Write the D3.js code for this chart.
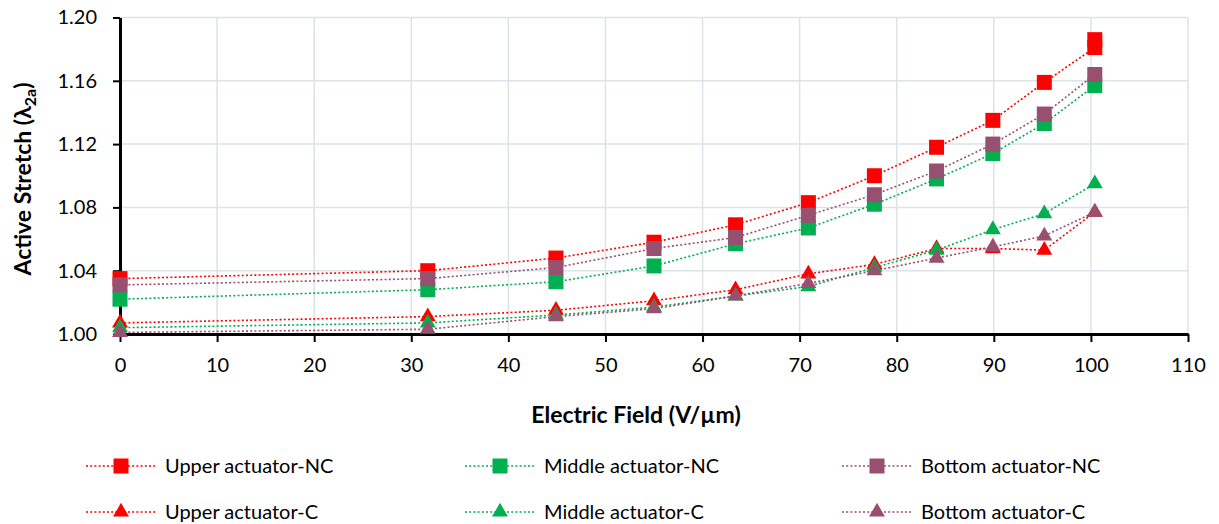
<!DOCTYPE html>
<html>
<head>
<meta charset="utf-8">
<script src="https://cdn.jsdelivr.net/npm/d3@7"></script>
<style>
  body { margin: 0; background: #fff; }
  text { font-family: Lato, "Open Sans", sans-serif; fill: #000; }
</style>
</head>
<body>
<div id="chart"></div>
<script>
// electric field values (V/um), shared by every series
let field = [0, 31.7, 44.9, 55.0, 63.4, 70.9, 77.7, 84.1, 89.9, 95.2, 100.4];
// upper NC has a second reading at the last field value
let upperNCField = [0, 31.7, 44.9, 55.0, 63.4, 70.9, 77.7, 84.1, 89.9, 95.2, 100.4, 100.4];

let upperNC  = [1.035, 1.040, 1.048, 1.058, 1.069, 1.083, 1.100, 1.118, 1.135, 1.159, 1.181, 1.186];
let middleNC = [1.022, 1.028, 1.033, 1.043, 1.057, 1.067, 1.082, 1.098, 1.114, 1.133, 1.157];
let bottomNC = [1.031, 1.035, 1.042, 1.054, 1.061, 1.075, 1.088, 1.103, 1.120, 1.139, 1.164];
let upperC   = [1.007, 1.011, 1.015, 1.021, 1.028, 1.038, 1.044, 1.054, 1.054, 1.053, 1.077];
let middleC  = [1.004, 1.007, 1.012, 1.017, 1.024, 1.030, 1.042, 1.053, 1.066, 1.076, 1.095];
let bottomC  = [1.001, 1.003, 1.011, 1.016, 1.024, 1.032, 1.040, 1.048, 1.055, 1.062, 1.077];

let seriesNames = ["Upper actuator-NC", "Middle actuator-NC", "Bottom actuator-NC",
                   "Upper actuator-C", "Middle actuator-C", "Bottom actuator-C"];
let xTicks = [0, 10, 20, 30, 40, 50, 60, 70, 80, 90, 100, 110];
let yTicks = [1.00, 1.04, 1.08, 1.12, 1.16, 1.20];

let red = "#ff0000", green = "#00b050", purple = "#97506f";

let series = [
  { name: seriesNames[0], xs: upperNCField, ys: upperNC, color: red, shape: "square" },
  { name: seriesNames[1], xs: field, ys: middleNC, color: green, shape: "square" },
  { name: seriesNames[2], xs: field, ys: bottomNC, color: purple, shape: "square" },
  { name: seriesNames[3], xs: field, ys: upperC, color: red, shape: "triangle" },
  { name: seriesNames[4], xs: field, ys: middleC, color: green, shape: "triangle" },
  { name: seriesNames[5], xs: field, ys: bottomC, color: purple, shape: "triangle" }
];

let width = 1219, height = 524;

let x = d3.scaleLinear().domain([0, 110]).range([120, 1188]);
let y = d3.scaleLinear().domain([1.0, 1.2]).range([334, 17.5]);

const svg = d3.select("#chart").append("svg")
  .attr("width", width)
  .attr("height", height);

// grid
svg.append("g")
  .selectAll("line")
  .data(yTicks.slice(1))
  .join("line")
  .attr("x1", x(0)).attr("x2", x(110))
  .attr("y1", d => y(d)).attr("y2", d => y(d))
  .attr("stroke", "#dde1e8").attr("stroke-width", 1.5);

svg.append("g")
  .selectAll("line")
  .data(xTicks.slice(1))
  .join("line")
  .attr("x1", d => x(d)).attr("x2", d => x(d))
  .attr("y1", y(1.2)).attr("y2", y(1.0))
  .attr("stroke", "#dde1e8").attr("stroke-width", 1.5);

// axes
let axisX = d3.axisBottom(x)
  .tickValues(xTicks)
  .tickSize(8)
  .tickSizeOuter(0)
  .tickPadding(16)
  .tickFormat(d3.format("d"));

let axisY = d3.axisLeft(y)
  .tickValues(yTicks)
  .tickSize(7)
  .tickSizeOuter(0)
  .tickPadding(16)
  .tickFormat(d3.format(".2f"));

let gx = svg.append("g").attr("transform", `translate(0 ${y(1.0)})`).call(axisX);
let gy = svg.append("g").attr("transform", `translate(${x(0)} 0)`).call(axisY);

[gx, gy].forEach(g => {
  g.select(".domain").attr("stroke", "#000").attr("stroke-width", 3);
  g.selectAll(".tick line").attr("stroke", "#000").attr("stroke-width", 2);
  g.selectAll(".tick text").style("font-size", "20px").style("font-family", "Lato, sans-serif");
});

// axis titles
svg.append("text")
  .attr("x", 636).attr("y", 423)
  .attr("text-anchor", "middle")
  .style("font-size", "23px").style("font-weight", "bold")
  .text("Electric Field (V/µm)");

let yt = svg.append("text")
  .attr("transform", "translate(31 179) rotate(-90)")
  .attr("text-anchor", "middle")
  .style("font-size", "23px").style("font-weight", "bold");
yt.append("tspan").text("Active Stretch (λ");
yt.append("tspan").attr("dy", 5).style("font-size", "16px").text("2a");
yt.append("tspan").attr("dy", -5).text(")");

let symbolFor = shape => shape === "square"
  ? d3.symbol().type(d3.symbolSquare).size(225)
  : d3.symbol().type(d3.symbolTriangle).size(110);

// lines
let line = d3.line();
series.forEach(s => {
  let pts = s.ys.map((v, i) => [x(s.xs[i]), y(v)]);
  svg.append("path")
    .attr("d", line(pts))
    .attr("fill", "none")
    .attr("stroke", s.color)
    .attr("stroke-width", 1.6)
    .attr("stroke-dasharray", "2,2.2");
});

// markers
series.forEach(s => {
  svg.append("g")
    .selectAll("path")
    .data(s.ys.map((v, i) => [s.xs[i], v]))
    .join("path")
    .attr("transform", d => `translate(${x(d[0])} ${y(d[1])})`)
    .attr("d", symbolFor(s.shape)())
    .attr("fill", s.color);
});

// legend
let legendCols = [86, 465, 842];
let legendRows = [466, 512];
series.forEach((s, i) => {
  let lx = legendCols[i % 3];
  let ly = legendRows[Math.floor(i / 3)];
  let g = svg.append("g").attr("transform", `translate(${lx} ${ly})`);
  g.append("line")
    .attr("x1", 0).attr("x2", 70)
    .attr("stroke", s.color)
    .attr("stroke-width", 1.6)
    .attr("stroke-dasharray", "2,2.2");
  g.append("path")
    .attr("transform", "translate(35 0)")
    .attr("d", symbolFor(s.shape)())
    .attr("fill", s.color);
  g.append("text")
    .attr("x", 79).attr("dy", "0.35em")
    .style("font-size", "20px")
    .text(s.name);
});
</script>
</body>
</html>
